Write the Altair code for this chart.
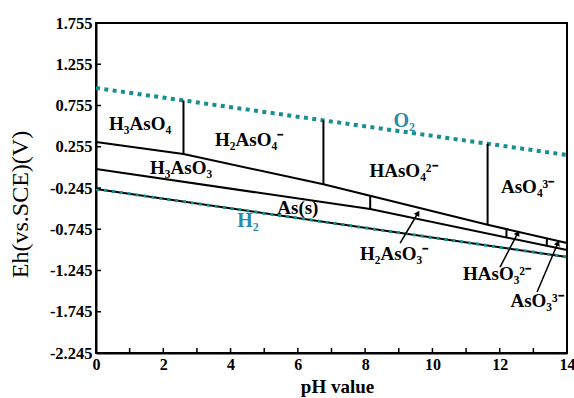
import math
import altair as alt
import pandas as pd

W, H = 471, 330
FONT = "Liberation Serif"

# ---- data ----
ph_ticks = [0, 2, 4, 6, 8, 10, 12, 14]
ph_minor = [0, 1, 2, 3, 4, 5, 6, 7, 8, 9, 10, 11, 12, 13, 14]
eh_ticks = [-2.245, -1.745, -1.245, -0.745, -0.245, 0.255, 0.755, 1.255, 1.755]

o2_ph = [0, 14]
o2_eh = [0.967, 0.155]
h2_ph = [0, 14]
h2_eh = [-0.257, -1.081]

as5_ph = [0, 2.6, 6.76, 11.64, 14]
as5_eh = [0.313, 0.167, -0.20, -0.69, -0.912]
as3_ph = [0, 8.15, 14]
as3_eh = [-0.015, -0.50, -0.997]

div_ph = [2.6, 6.76, 11.64, 8.15, 12.2, 13.4]
div_top = [0.816, 0.575, 0.292, -0.34, -0.743, -0.855]
div_bot = [0.167, -0.20, -0.69, -0.50, -0.844, -0.946]

species = ["H₃AsO₄", "H₂AsO₄⁻", "HAsO₄²⁻", "AsO₄³⁻", "H₃AsO₃", "As(s)",
           "H₂AsO₃⁻", "HAsO₃²⁻", "AsO₃³⁻"]
sp_ph = [1.31, 4.55, 9.14, 12.83, 2.53, 6.0, 8.86, 11.92, 13.11]
sp_eh = [0.531, 0.337, -0.039, -0.233, -0.003, -0.487, -1.045, -1.287, -1.615]

gas = ["O₂", "H₂"]
gas_ph = [9.16, 4.52]
gas_eh = [0.567, -0.645]

arr_ph0 = [9.04, 12.01, 13.11]
arr_eh0 = [-0.912, -1.203, -1.506]
arr_ph1 = [9.57, 12.54, 13.73]
arr_eh1 = [-0.548, -0.790, -0.912]

# ---- scales / axes ----
xscale = alt.Scale(domain=[0, 14], nice=False, zero=False)
yscale = alt.Scale(domain=[-2.245, 1.755], nice=False, zero=False)

xaxis = alt.Axis(values=ph_ticks, format="d", ticks=False, grid=False,
                 domainColor="black", domainWidth=2,
                 labelFont=FONT, labelFontSize=16, labelFontWeight="bold",
                 labelColor="black", labelPadding=3, labelFlush=False,
                 title="pH value", titleFont=FONT, titleFontSize=19,
                 titleFontWeight="bold", titleColor="black",
                 titleX=241, titleY=33, titleBaseline="middle", titleAlign="center")
yaxis = alt.Axis(values=eh_ticks, ticks=False, grid=False,
                 labelExpr="replace(format(datum.value, '.3f'), '\u2212', '-')",
                 domainColor="black", domainWidth=2,
                 labelFont=FONT, labelFontSize=16.5, labelFontWeight="bold",
                 labelColor="black", labelPadding=4, labelFlush=False,
                 title="Eh(vs.SCE)(V)", titleFont=FONT, titleFontSize=24,
                 titleFontWeight="normal", titleColor="black",
                 titleAngle=-90, titleX=-76, titleY=181,
                 titleBaseline="middle", titleAlign="center")

X = alt.X("pH:Q", scale=xscale, axis=xaxis)
Y = alt.Y("Eh:Q", scale=yscale, axis=yaxis)

TEAL = "#178f90"
TEAL_TXT = "#2c8aa8"


def line(ph, eh, **kw):
    df = pd.DataFrame({"pH": ph, "Eh": eh})
    return alt.Chart(df).mark_line(**kw).encode(x=X, y=Y)


layers = []
layers.append(line(o2_ph, o2_eh, color=TEAL, strokeWidth=4, strokeDash=[4, 4.4]))
layers.append(line(h2_ph, h2_eh, color="black", strokeWidth=2))
layers.append(line(h2_ph, h2_eh, color=TEAL, strokeWidth=3, strokeDash=[3, 5]))
layers.append(line(as5_ph, as5_eh, color="black", strokeWidth=2))
layers.append(line(as3_ph, as3_eh, color="black", strokeWidth=2))

div_df = pd.DataFrame({"pH": div_ph, "Eh": div_top, "Eh2": div_bot})
layers.append(alt.Chart(div_df).mark_rule(color="black", strokeWidth=2).encode(
    x=X, y=Y, y2="Eh2:Q"))

# arrows
ang = []
for a0, b0, a1, b1 in zip(arr_ph0, arr_eh0, arr_ph1, arr_eh1):
    dx = (a1 - a0) * W / 14
    dy = (b1 - b0) * H / 4
    ang.append(math.degrees(math.atan2(dx, dy)))
arr_df = pd.DataFrame({"pH": arr_ph0, "Eh": arr_eh0, "pH2": arr_ph1,
                       "Eh2": arr_eh1, "ang": ang})
layers.append(alt.Chart(arr_df).mark_rule(color="black", strokeWidth=1.5).encode(
    x=X, y=Y, x2="pH2:Q", y2="Eh2:Q"))
head_df = pd.DataFrame({"pH": arr_ph1, "Eh": arr_eh1, "ang": ang})
layers.append(alt.Chart(head_df).mark_point(shape="triangle-up", filled=True,
                                            color="black", size=40, opacity=1).encode(
    x=X, y=Y, angle=alt.Angle("ang:Q", scale=None)))

# inward ticks
xt_df = pd.DataFrame({"pH": ph_minor, "Eh": [-2.245] * len(ph_minor)})
layers.append(alt.Chart(xt_df).mark_tick(orient="vertical", size=5, thickness=1.5,
                                         color="black", yOffset=-2.5, opacity=1).encode(x=X, y=Y))
yt_df = pd.DataFrame({"pH": [0] * len(eh_ticks), "Eh": eh_ticks})
layers.append(alt.Chart(yt_df).mark_tick(orient="horizontal", size=5, thickness=1.5,
                                         color="black", xOffset=2.5, opacity=1).encode(x=X, y=Y))

# labels
sp_df = pd.DataFrame({"pH": sp_ph, "Eh": sp_eh, "t": species})
layers.append(alt.Chart(sp_df).mark_text(font=FONT, fontSize=19, fontWeight="bold",
                                         color="black", align="center",
                                         baseline="middle").encode(x=X, y=Y, text="t:N"))
gas_df = pd.DataFrame({"pH": gas_ph, "Eh": gas_eh, "t": gas})
layers.append(alt.Chart(gas_df).mark_text(font=FONT, fontSize=20, fontWeight="bold",
                                          color=TEAL_TXT, align="center",
                                          baseline="middle").encode(x=X, y=Y, text="t:N"))

chart = alt.layer(*layers).properties(
    width=W, height=H,
    padding={"left": 96, "top": 23, "right": 7, "bottom": 45},
    autosize=alt.AutoSizeParams(type="none"),
    background="white",
).configure_view(stroke="black", strokeWidth=2)

chart.save("out.html", embed_options={"renderer": "svg", "actions": False})
